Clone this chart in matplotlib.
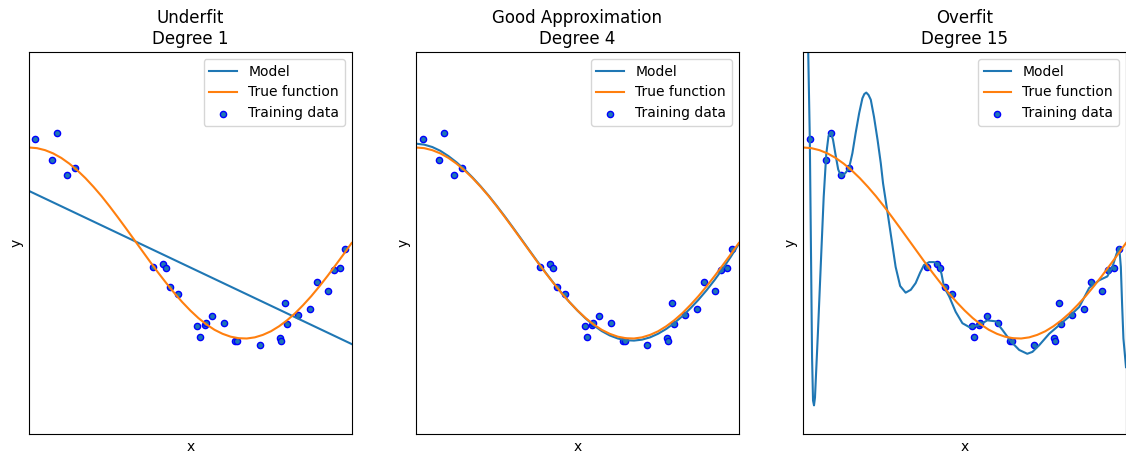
import matplotlib
matplotlib.use("Agg")
import matplotlib.pyplot as plt

# training samples
x_train = [0.020, 0.071, 0.087, 0.118, 0.143, 0.383, 0.415, 0.424, 0.438, 0.461,
           0.522, 0.529, 0.545, 0.549, 0.568, 0.603, 0.640, 0.646, 0.715, 0.778,
           0.781, 0.792, 0.799, 0.833, 0.870, 0.892, 0.926, 0.945, 0.964, 0.979]
y_train = [1.089, 0.869, 1.149, 0.709, 0.782, -0.251, -0.217, -0.265, -0.457, -0.530,
           -0.866, -0.981, -0.859, -0.840, -0.764, -0.838, -1.026, -1.026, -1.071, -0.991,
           -1.026, -0.632, -0.852, -0.751, -0.688, -0.412, -0.499, -0.279, -0.265, -0.059]

# true function curve, sampled every 0.025
x_curve = [i / 40 for i in range(41)]
y_true = [1.000, 0.993, 0.972, 0.938, 0.891, 0.831, 0.760, 0.679, 0.588, 0.490,
          0.383, 0.271, 0.156, 0.039, -0.078, -0.195, -0.309, -0.418, -0.522, -0.619,
          -0.707, -0.786, -0.853, -0.909, -0.951, -0.981, -0.997, -1.000, -0.988, -0.962,
          -0.924, -0.872, -0.809, -0.735, -0.649, -0.556, -0.454, -0.346, -0.233, -0.118,
          0.000]

# degree 1 model (straight line, end points)
x_deg1 = [0.0, 1.0]
y_deg1 = [0.545, -1.058]

# degree 4 model, same sampling as the true function
y_deg4 = [1.040, 1.030, 1.005, 0.965, 0.910, 0.845, 0.770, 0.685, 0.593, 0.494,
          0.388, 0.277, 0.162, 0.045, -0.073, -0.190, -0.305, -0.415, -0.520, -0.618,
          -0.708, -0.790, -0.862, -0.922, -0.968, -1.000, -1.018, -1.022, -1.012, -0.988,
          -0.950, -0.900, -0.838, -0.766, -0.684, -0.594, -0.495, -0.387, -0.270, -0.145,
          -0.010]

# degree 15 model
x_deg15 = [0.000, 0.008, 0.014, 0.020, 0.024, 0.027, 0.030, 0.033, 0.036, 0.045,
           0.055, 0.063, 0.071, 0.078, 0.085, 0.092, 0.100, 0.108, 0.116, 0.124,
           0.132, 0.142, 0.152, 0.162, 0.173, 0.183, 0.189, 0.195, 0.202, 0.209,
           0.219, 0.230, 0.240, 0.247, 0.260, 0.275, 0.286, 0.300, 0.317, 0.333,
           0.348, 0.362, 0.374, 0.390, 0.405, 0.418, 0.428, 0.436, 0.452, 0.472,
           0.493, 0.514, 0.530, 0.545, 0.570, 0.596, 0.617, 0.643, 0.669, 0.694,
           0.710, 0.731, 0.762, 0.793, 0.824, 0.855, 0.886, 0.917, 0.942, 0.958,
           0.970, 0.979, 0.984, 0.988, 0.992, 0.996, 1.000]
y_deg15 = [5.00, 3.30, 2.20, 1.09, -0.20, -1.20, -1.65, -1.70, -1.62, -0.95,
           -0.15, 0.48, 0.93, 1.12, 1.16, 1.08, 0.92, 0.77, 0.705, 0.71,
           0.74, 0.79, 0.94, 1.15, 1.36, 1.515, 1.56, 1.575, 1.55, 1.50,
           1.32, 1.08, 0.835, 0.625, 0.34, 0.00, -0.25, -0.45, -0.52, -0.49,
           -0.42, -0.31, -0.23, -0.20, -0.20, -0.22, -0.32, -0.46, -0.56, -0.72,
           -0.84, -0.88, -0.87, -0.86, -0.81, -0.82, -0.91, -1.03, -1.12, -1.16,
           -1.14, -1.07, -0.95, -0.86, -0.77, -0.67, -0.47, -0.39, -0.35, -0.25,
           -0.12, -0.045, -0.25, -0.65, -1.00, -1.15, -1.30]

titles = ["Underfit\nDegree 1", "Good Approximation\nDegree 4", "Overfit\nDegree 15"]
models = [(x_deg1, y_deg1), (x_curve, y_deg4), (x_deg15, y_deg15)]

fig, axes = plt.subplots(1, 3, figsize=(11.26, 4.54), dpi=100)
fig.subplots_adjust(left=29 / 1126, right=1.0, bottom=20 / 454, top=402 / 454, wspace=0.2)

for ax, title, (mx, my) in zip(axes, titles, models):
    ax.plot(mx, my, label="Model")
    ax.plot(x_curve, y_true, label="True function")
    ax.scatter(x_train, y_train, edgecolor="b", s=20, label="Training data")
    ax.set_xlim(0, 1)
    ax.set_ylim(-2, 2)
    ax.set_xticks([])
    ax.set_yticks([])
    ax.set_xlabel("x")
    ax.set_ylabel("y")
    ax.set_title(title)
    ax.legend(loc="upper right")

fig.savefig("out.png", dpi=100)
